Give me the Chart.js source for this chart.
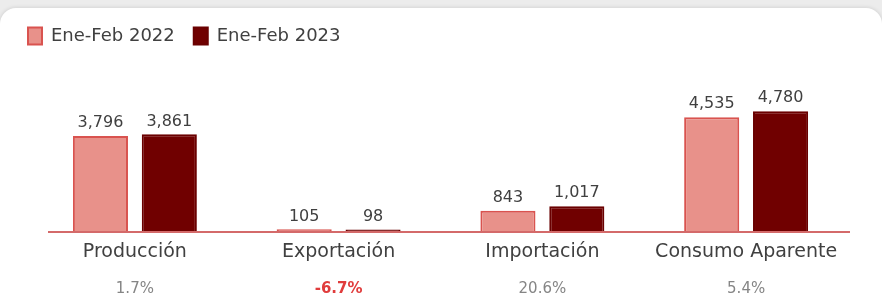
<!DOCTYPE html>
<html>
<head>
<meta charset="utf-8">
<script src="https://cdn.jsdelivr.net/npm/chart.js@4"></script>
<style>
  html, body { margin: 0; padding: 0; background: #ececec; overflow: hidden; }
  .tarjeta {
    position: absolute; top: 8px; left: 0; width: 882px; height: 300px;
    background: #fff; border-top-left-radius: 16px; border-top-right-radius: 16px;
    box-shadow: 0 0 4px rgba(0, 0, 0, 0.15);
  }
  .contenedor { position: absolute; top: 0; left: 0; width: 882px; height: 302px; }
</style>
</head>
<body>
<div class="tarjeta"></div>
<div class="contenedor"><canvas id="graficoBalanza"></canvas></div>
<script>
const categorias = ["Producción", "Exportación", "Importación", "Consumo Aparente"];
const valores2022 = [3796, 105, 843, 4535];
const valores2023 = [3861, 98, 1017, 4780];
const variaciones = ["1.7%", "-6.7%", "20.6%", "5.4%"];

const fuente = "'DejaVu Sans', sans-serif";

// etiquetas con el valor encima de cada barra
const etiquetasValor = {
  id: "etiquetasValor",
  afterDatasetsDraw(chart) {
    const ctx = chart.ctx;
    ctx.save();
    ctx.font = "16px " + fuente;
    ctx.fillStyle = "#404040";
    ctx.textAlign = "center";
    ctx.textBaseline = "bottom";
    chart.data.datasets.forEach((ds, i) => {
      chart.getDatasetMeta(i).data.forEach((barra, j) => {
        ctx.fillText(ds.data[j].toLocaleString("en-US"), barra.x, barra.y - 5);
      });
    });
    ctx.restore();
  },
};

// línea base y variación porcentual debajo de cada categoría
const lineaYVariacion = {
  id: "lineaYVariacion",
  afterDraw(chart) {
    const ctx = chart.ctx;
    const area = chart.chartArea;
    const y0 = chart.scales.y.getPixelForValue(0);
    ctx.save();
    ctx.strokeStyle = "#d46a6a";
    ctx.lineWidth = 2;
    ctx.beginPath();
    ctx.moveTo(area.left + 15, y0);
    ctx.lineTo(area.right + 2, y0);
    ctx.stroke();

    ctx.textAlign = "center";
    ctx.textBaseline = "middle";
    variaciones.forEach((v, i) => {
      const x = chart.scales.x.getPixelForValue(i);
      const negativo = v.startsWith("-");
      ctx.font = (negativo ? "bold " : "") + "15px " + fuente;
      ctx.fillStyle = negativo ? "#e03c3c" : "#858585";
      ctx.fillText(v, x, area.bottom + 57);
    });
    ctx.restore();
  },
};

new Chart(document.getElementById("graficoBalanza"), {
  type: "bar",
  data: {
    labels: categorias,
    datasets: [
      {
        label: "Ene-Feb 2022",
        data: valores2022,
        backgroundColor: "#e8918a",
        borderColor: "#d9534f",
        borderWidth: 2,
      },
      {
        label: "Ene-Feb 2023",
        data: valores2023,
        backgroundColor: "#700000",
        borderColor: "#6a0000",
        borderWidth: 2,
      },
    ],
  },
  options: {
    responsive: true,
    maintainAspectRatio: false,
    animation: false,
    layout: { padding: { left: 9, top: 8, right: 34, bottom: 0 } },
    datasets: { bar: { categoryPercentage: 0.676, barPercentage: 0.8 } },
    plugins: {
      tooltip: { enabled: false },
      legend: {
        position: "top",
        align: "start",
        labels: {
          boxWidth: 14,
          boxHeight: 17,
          padding: 19,
          color: "#404040",
          font: { family: fuente, size: 18 },
        },
      },
    },
    scales: {
      x: {
        grid: { display: false, drawTicks: false },
        border: { display: false },
        ticks: { color: "#404040", padding: 9, font: { family: fuente, size: 19 } },
        afterFit: (s) => { s.height = 70; },
      },
      y: {
        min: 0,
        max: 7000,
        grid: { display: false, drawTicks: false },
        border: { display: false },
        ticks: { display: false },
        afterFit: (s) => { s.width = 24; },
      },
    },
  },
  plugins: [etiquetasValor, lineaYVariacion],
});
</script>
</body>
</html>
